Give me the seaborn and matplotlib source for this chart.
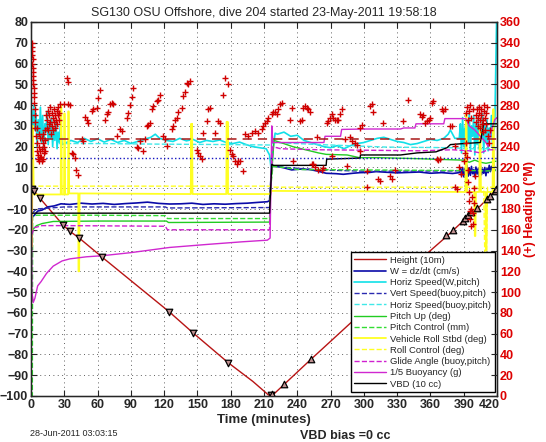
import matplotlib
matplotlib.use("Agg")
import matplotlib.pyplot as plt
import matplotlib.transforms as mtransforms
import seaborn as sns

# ---- data (left axis units unless noted) ----
depth_t = [0, 1, 3, 8, 29, 35, 43.5, 63.7, 124.6, 146, 177.8, 200, 214, 217,
           228, 252, 300, 353.6, 375, 390, 405, 419.5]
depth_v = [0, -0.5, -1.3, -4.8, -17.8, -20.7, -24, -33, -59.5, -69.6, -84, -93, -99.5, -100,
           -94.5, -82.5, -59, -33, -23, -15.5, -8.5, -0.5]

down_mark_t = [1, 3, 8, 29, 35, 43.5, 63.7, 124.6, 146, 177.8, 216]
down_mark_v = [-0.5, -1.3, -4.8, -17.8, -20.7, -24, -33, -59.5, -69.6, -84, -99.5]
up_mark_t = [217.5, 228, 252, 374, 380, 389, 391, 394, 397, 401.7, 410.7, 413.7, 418, 419.5]
up_mark_v = [-99.2, -94, -82, -22.5, -20, -15.7, -14.5, -13, -11.5, -9.3, -5.3, -3.7, -1.3, -0.5]

w_t = [0, 1, 3, 6, 10, 15, 21, 27, 35, 45, 55, 65, 75, 85, 95, 105, 115, 125, 135, 145,
       155, 165, 175, 185, 195, 205, 213, 215, 217, 222, 228, 235, 242, 251, 258, 266, 275,
       281.5, 290, 296.5, 305, 311, 320, 330, 340, 350, 360, 370, 380,
       386, 387, 388, 389, 390, 391, 392, 393, 394, 395, 396, 397, 398, 399, 400, 401, 402,
       403, 404, 405, 406, 407, 408, 409, 410, 411, 412, 413, 414, 415, 416, 417, 418]
w_v = [-2, -14, -13, -11, -10.5, -9, -8.5, -7.5, -7.8, -7.2, -7.6, -7.3, -7.8, -7.4, -7.1,
       -6.7, -7.3, -7.6, -7.5, -7.2, -7.8, -7.5, -7.7, -7.4, -7.2, -6.8, -6.5, -6, 11, 10.5,
       9.8, 8.8, 9.2, 9, 8.3, 7.2, 7, 6.7, 7.2, 7.5, 7.6, 8, 7.7, 7.4, 7.6, 7.8, 7.2, 7.5, 7.1,
       7.5, 9.5, 6, 10, 5.5, 9, 6.5, 11, 5.8, 9.8, 6.2, 10.5, 7, 9, 5.5, 10.2, 6.8, 9.4, 5.9,
       10.8, 6.5, 9.2, 7.2, 10, 6, 9.5, 7.5, 11, 8, 10.5, 9, 11.5, 10]

hspd_t = [0.5, 1.5, 2.5, 3.5, 4.5, 5.5, 6.5, 7.5, 8.5, 9.5, 10.5, 11.5, 12.5, 13.5, 14.5,
          15.5, 16.5, 17.5, 18.5, 19.5, 20.5, 21.5, 22.5, 23.5, 24.5, 25.5, 26.5, 28,
          30, 36, 42, 48, 54, 60, 66, 72, 78, 84, 90, 96, 102, 108, 112, 116, 122, 128, 134,
          140, 146, 152, 158, 164, 170, 176, 182, 188, 194, 200, 206, 212, 215, 216.5, 218, 220,
          222, 228, 234, 240, 246, 252, 258, 264, 270, 276, 282, 288, 294, 300, 306, 312, 318,
          324, 330, 336, 342, 348, 354, 360, 366, 372, 376, 378, 382,
          386, 387, 388, 389, 390, 391, 392, 393, 394, 395, 396, 397, 398, 399, 400, 401, 402,
          403, 404, 405, 406, 407, 408, 409, 410, 411, 412, 413, 414, 415, 416, 417, 418, 419.6]
hspd_v = [38, 22, 40, 28, 36, 20, 33, 25, 39, 22, 35, 19, 31, 27, 37, 21, 30, 24, 34, 20,
          29, 23, 32, 19, 27, 22, 30, 21, 21.5, 23, 22, 24, 22.5, 23.8, 22.2, 23.5, 22, 23,
          21.5, 22.5, 23.5, 24.5, 26, 24, 23, 22.5, 24, 22.8, 23.5, 22, 23, 22.5, 23.2, 22,
          21.5, 22.2, 21, 20, 19.5, 19, 16, 9, 18, 26.5,
          26, 27, 25, 25.5, 23, 22, 21, 20, 19.5, 20.5, 19, 20.5, 21.5, 22, 23, 24, 24.5,
          23.5, 22.5, 22, 21, 21.5, 22.5, 23.5, 23, 24, 26, 28, 24,
          24, 31, 17, 34, 20, 29, 15, 33, 22, 36, 18, 30, 25, 35, 16, 31, 21, 34, 19, 28, 24,
          36, 17, 30, 22, 33, 18, 29, 25, 35, 20, 27, 30, 80]

vspd_t = [1, 5, 30, 121, 123, 215, 217, 230, 260, 300, 380, 390, 410, 419]
vspd_v = [-12, -10, -9, -9, -9.5, -9.3, 10.5, 10, 8.8, 8.2, 8.3, 8.5, 8.3, 8.8]

hspd2_t = [25, 60, 120, 180, 215, 219, 260, 320, 380, 395, 419]
hspd2_v = [21.5, 21.5, 21.2, 21, 20.8, 22, 21, 19.8, 19.5, 19, 19]

pitch_t = [0, 0.5, 2, 5, 10, 20, 60, 122, 124, 215, 216, 219, 225, 236, 259, 266, 285, 296,
           314, 350, 390, 395, 400, 405, 410, 415, 419]
pitch_v = [-100, -20, -19.7, -18, -17, -16, -15.8, -15.8, -16.5, -16.3, 0, 23, 22, 20, 17,
           16.3, 16, 14.7, 14.7, 14.2, 13.5, 12.5, 13.5, 12.5, 12, 12.5, 13]

pctl_t = [0, 1.2, 1.5, 5, 60, 121, 123, 215, 216, 218, 228, 240, 300, 390, 400, 410, 419]
pctl_v = [-100, -100, -13.5, -13, -13, -13.2, -14.6, -14.6, 0, 10.5, 10, 9, 8.8, 8.5, 8.5,
          8.3, 8.5]

roll_t = [0, 0.8, 1.6, 2.5, 26.8, 27, 27.4, 27.8, 29.8, 30, 30.4, 30.8, 33.4, 33.6, 34, 34.4,
          42.6, 42.8, 43.4, 43.8, 144, 144.4, 144.8, 145.2, 145.6, 146, 176, 176.4, 176.8,
          177.2, 177.6, 178, 215, 216, 217, 220, 300, 391.5, 392, 392.5, 393, 399.5, 400,
          400.5, 401, 404, 404.5, 405, 405.5, 409.5, 410, 410.5, 411, 416, 416.5, 417, 417.5,
          420]
roll_v = [47, -28, 30, -3, -3, 40, 40, -3, -3, 36, 36, -3, -3, 37, 37, -2.5, -2.5, -40, -40,
          -2.5, -2.8, 31, 5, 31, -2.8, -2.8, -2.8, 32, 4, 32, -2.8, -2.8, -2.8, -2, -1.3, -1.3,
          -1.5, -1.8, 36, 36, -1.8, -1.8, -23, -23, -1.8, -1.8, 30, 30, -1.8, -1.8, -30, -30,
          -1.8, -1.8, 38, 38, -1.8, -1.8]

rctl_t = [0, 215, 217, 408, 409, 410.5, 411.5, 419]
rctl_v = [1, 1, 0.5, 0.5, -33, -33, 0.5, 0.5]

glide_t = [0, 1, 3, 10, 30, 121, 123, 215, 216, 218, 225, 260, 300, 350, 380, 395, 405, 412,
           419]
glide_v = [-22, -22, -19, -18, -18, -18.3, -20, -20, 0, 20, 19, 18.5, 18.3, 18, 18.5, 18, 17,
           18.5, 18.5]

buoy_t = [0, 0.8, 2, 3.5, 6, 9, 14, 20, 28, 35, 50, 64, 90, 125, 160, 190, 213, 215.5, 217,
          218, 220, 240, 264, 265, 279, 280, 300, 333, 336, 346, 347, 372, 373, 392, 395, 400,
          405, 410, 412, 415, 418, 420]
buoy_v = [80, -50, -55, -53, -47, -45, -41, -37.5, -35, -34, -33, -32.5, -31, -28.5, -27,
          -25.8, -25, -24, 30, 22, 22, 22, 22, 25, 25, 28.3, 28.5, 28.5, 29, 29, 31, 31, 33.5,
          33.5, 30, 28, 25, 22, 20, 28, 33, 34]

vbd_t = [0, 215, 217, 218.5, 266, 266.5, 296.5, 297, 333, 348, 365, 375, 378, 390, 405, 408,
         420]
vbd_v = [-12, -12, 11.5, 11, 11, 14, 14.5, 16, 16, 17, 17.5, 19.5, 21, 21.5, 22, 31, 31]

ref_speed_v = 14.5      # blue dotted reference line
desired_hdg = 247       # heading axis, degrees

# heading (right axis, degrees)
hdg_t = [0.8, 1.0, 1.2, 1.0, 1.4, 1.2, 1.6, 1.8, 1.5, 2.0, 2.2, 2.4, 2.6, 2.8, 3.0, 3.2, 3.5,
         3.8, 4.0,
         4.5, 5, 5.5, 6, 6.5, 7, 7.5, 8, 8.5, 9, 9.5, 10, 10.5, 11, 11.5, 12, 12.5, 13, 5.2,
         6.8, 8.2, 9.8, 11.2, 12.7,
         13.5, 14, 14.5, 15, 15.5, 16, 16.5, 17, 17.5, 18, 18.5, 19, 19.5, 20, 20.5, 21, 21.5,
         22, 22.5, 23, 23.5, 24, 24.5, 25, 25.5,
         26.4, 30, 33.5, 32, 33.6, 35, 36.7, 37.5, 39.6, 41, 42.6,
         45.7, 47, 48.7, 50.2, 51.7, 54.7, 56.2, 59.2, 60.7, 62.2, 66.7, 68.2, 69.7, 71.2,
         72.7, 74.2, 77.2, 80.2, 81.7, 86.2, 87.7, 89.2, 90.7, 92.2, 95.3, 96.7, 98.2, 101,
         102.7, 104.2, 105.7, 107.2, 108.8, 110.2, 113.3, 114.7, 116.3, 119, 120.8, 122.3,
         126.8, 128.3, 129.8, 131.3, 132.8, 135.8, 137.3, 138.8, 140.3, 141.8, 143.3, 149.3,
         150.8, 152.3, 153.8, 155.3, 158.3, 159.8, 161.3, 165.8, 168.8, 170.3, 173.3, 175,
         178, 179.4, 180.8, 182.3, 183.9, 185.4, 186.9, 188.4, 191.4, 192.9, 195.9, 198.9,
         201.9, 204.9,
         208, 209.4, 211, 212.4, 214, 216.9, 218.4, 220, 221.4, 222.9, 224.4, 226, 233.4, 235,
         242.4, 244, 245.4, 247, 248.5, 250, 251.5, 257.5, 266.5, 268, 269.5, 271, 272.4, 274,
         275.5, 277, 278.5, 280, 283, 287.5, 289, 292, 293.5, 296.5, 298, 296.5, 305.5, 307,
         308.5, 236.4, 253, 254.5, 256, 259, 262, 263.5, 271, 284.5, 302.6, 302.6, 313,
         317.5, 335.5, 340, 350.6, 352, 353.6, 355, 357, 358.5, 360, 361, 362.5, 370, 371.5,
         373, 377.6, 379, 382, 368.6, 366, 367, 328, 323.6, 325, 314.6, 382, 383.6,
         386, 388, 390, 391, 392, 393, 393.5, 394, 394.5, 395, 395.5, 396, 396.5, 397, 397.5,
         398, 398.5, 399, 399.5, 400, 401, 401.5, 402, 402.5, 403, 403.5, 404, 404.5, 405,
         405.5, 406, 406.5, 407, 407.5, 408, 408.5, 409, 409.5, 410, 410.5, 411, 392, 393,
         394, 395, 396, 397, 398, 412, 413, 414]
hdg_deg = [340, 336, 332, 328, 324, 320, 316, 312, 308, 304, 300, 296, 292, 288, 282, 276,
           270, 264, 258,
           250, 244, 236, 228, 232, 240, 226, 236, 248, 230, 238, 226, 244, 252, 234, 240, 256,
           246, 258, 252, 230, 248, 228, 236,
           270, 258, 266, 274, 256, 262, 270, 278, 264, 252, 260, 272, 268, 256, 264, 276, 270,
           258, 266, 274, 262, 270, 278, 266, 272,
           281, 281, 281, 306, 302, 280, 234, 233, 229, 218, 213,
           247, 245, 269, 266, 263, 274, 276, 277, 287, 295, 266, 271, 273, 281, 282, 281, 250,
           257, 255, 268, 272, 280, 288, 296, 240, 239, 245, 236, 247, 260, 261, 263, 276, 279,
           284, 285, 290, 250, 247, 241, 257, 260, 266, 268, 273, 277, 289, 293, 301, 300, 303,
           237, 234, 231, 228, 253, 265, 276, 277, 253, 265, 263, 290, 306, 300, 237, 233, 231,
           226, 223, 226, 226, 217, 252, 250, 253, 255, 253,
           257, 260, 263, 265, 268, 271, 273, 273, 271, 276, 281, 282, 266, 277, 265, 266, 277,
           279, 277, 276, 273, 249, 263, 265, 268, 271, 268, 266, 266, 266, 271, 276, 247, 249,
           245, 244, 242, 258, 261, 236, 279, 281, 273, 226, 223, 223, 220, 218, 218, 219, 231,
           221, 217, 201, 209, 263, 265, 285, 271, 269, 270, 263, 265, 266, 268, 282, 284, 276,
           274, 276, 260, 260, 241, 228, 228, 227, 218, 212, 209, 207, 201, 199,
           220, 214, 226, 234, 244, 230, 218, 206, 196, 188, 178, 170, 164, 180, 192, 176, 166,
           186, 200, 212, 270, 264, 276, 268, 260, 272, 278, 266, 258, 270, 276, 262, 254, 266,
           274, 280, 268, 256, 262, 272, 278, 272, 278, 266, 274, 280, 268, 276, 250, 244, 256]

legend_labels = ["Height (10m)", "W = dz/dt (cm/s)", "Horiz Speed(W,pitch)",
                 "Vert Speed(buoy,pitch)", "Horiz Speed(buoy,pitch)", "Pitch Up (deg)",
                 "Pitch Control (mm)", "Vehicle Roll Stbd (deg)", "Roll Control (deg)",
                 "Glide Angle (buoy,pitch)", "1/5 Buoyancy (g)", "VBD (10 cc)"]

x_ticks = list(range(0, 421, 30))
y_ticks = list(range(-100, 81, 10))
hdg_ticks = list(range(0, 361, 20))

sns.set_style("ticks")
plt.rcParams["font.family"] = ["Liberation Sans", "DejaVu Sans"]

fig = plt.figure(figsize=(5.46, 4.42), dpi=100)
ax = fig.add_axes([31 / 546, 1 - 396 / 442, 466 / 546, 374 / 442])

series = [
    (depth_t, depth_v, "#b81414", "-", 1.0),
    (w_t, w_v, "#0a0aa8", "-", 1.2),
    (hspd_t, hspd_v, "#10e0e8", "-", 1.2),
    (vspd_t, vspd_v, "#2a2ab0", "--", 1.0),
    (hspd2_t, hspd2_v, "#40e8e8", "--", 1.0),
    (pitch_t, pitch_v, "#22cc22", "-", 1.0),
    (pctl_t, pctl_v, "#33dd33", "--", 1.0),
    (roll_t, roll_v, "#ffff22", "-", 1.3),
    (rctl_t, rctl_v, "#ffff22", "--", 1.0),
    (glide_t, glide_v, "#d020d0", "--", 1.0),
    (buoy_t, buoy_v, "#d028d0", "-", 1.0),
    (vbd_t, vbd_v, "black", "-", 1.0),
]

handles = []
for (tt, vv, col, ls, lw), lab in zip(series, legend_labels):
    sns.lineplot(x=tt, y=vv, ax=ax, color=col, linestyle=ls, linewidth=lw,
                 estimator=None, sort=False, legend=False, label=lab)
    handles.append(ax.lines[-1])

sns.lineplot(x=[0, 420], y=[ref_speed_v, ref_speed_v], ax=ax, color="#1515c0",
             linestyle=":", linewidth=1.0, estimator=None, legend=False)

sns.scatterplot(x=down_mark_t, y=down_mark_v, ax=ax, marker="v", s=22,
                facecolor="#c09090", edgecolor="black", linewidth=0.9, zorder=4, legend=False)
sns.scatterplot(x=up_mark_t, y=up_mark_v, ax=ax, marker="^", s=22,
                facecolor="#c09090", edgecolor="black", linewidth=0.9, zorder=4, legend=False)

ax.set_xlim(0, 420)
ax.set_ylim(-100, 80)
ax.set_xticks(x_ticks)
ax.set_yticks(y_ticks)
ax.grid(True, linestyle=(0, (1, 3.5)), color="#606060", linewidth=0.7)
ax.tick_params(direction="in", length=4, top=True, right=False, labelsize=9, pad=2)
for lab in ax.get_xticklabels() + ax.get_yticklabels():
    lab.set_fontweight("bold")
# nudge the last x label left so it clears the red "0" of the heading axis
last = ax.get_xticklabels()[-1]
last.set_transform(last.get_transform() +
                   mtransforms.ScaledTranslation(-8 / 100, 0, fig.dpi_scale_trans))
for sp in ax.spines.values():
    sp.set_linewidth(1.0)
    sp.set_color("black")
ax.set_xlabel("Time (minutes)", fontsize=9.5, fontweight="bold", labelpad=2)
ax.set_ylabel("")
ax.set_title("SG130 OSU Offshore, dive 204 started 23-May-2011 19:58:18",
             fontsize=9, pad=4)

ax.legend(handles=handles, labels=legend_labels, loc="lower right",
          bbox_to_anchor=(0.995, 0.011), borderaxespad=0, fontsize=6.8, handlelength=3.3,
          labelspacing=0.24, borderpad=0.35, handletextpad=0.5, fancybox=False,
          framealpha=1, edgecolor="black")

ax2 = ax.twinx()
sns.scatterplot(x=hdg_t, y=hdg_deg, ax=ax2, marker="+", s=13, color="#d00000",
                linewidth=1.0, legend=False)
sns.lineplot(x=[12, 420], y=[desired_hdg, desired_hdg], ax=ax2, color="#a81818",
             linestyle=(0, (6, 4)), linewidth=1.1, estimator=None, legend=False)
ax2.set_ylim(0, 360)
ax2.set_yticks(hdg_ticks)
ax2.tick_params(direction="in", length=4, labelsize=9, labelcolor="#dd0000", pad=2)
for lab in ax2.get_yticklabels():
    lab.set_fontweight("bold")
ax2.set_ylabel("(+) Heading (\u00b0M)", color="#dd0000", fontsize=9, fontweight="bold",
               labelpad=2)
ax2.grid(False)

fig.text(30 / 546, 1 - 433 / 442, "28-Jun-2011 03:03:15", fontsize=6.5, va="center")
fig.text(300 / 546, 1 - 436 / 442, "VBD bias =0 cc", fontsize=9, fontweight="bold",
         va="center")

fig.savefig("out.png", dpi=100)
